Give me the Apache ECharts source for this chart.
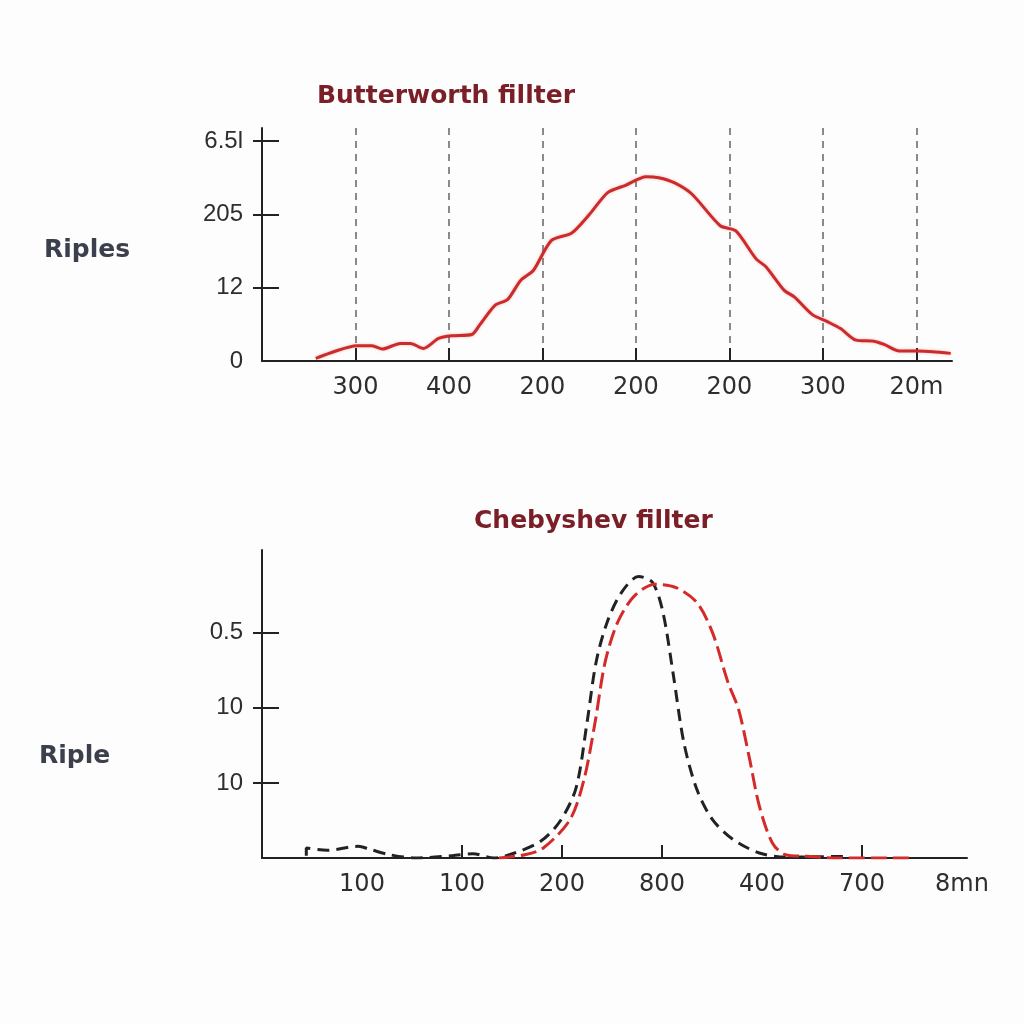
<!DOCTYPE html>
<html>
<head>
<meta charset="utf-8">
<script src="https://cdn.jsdelivr.net/npm/echarts@6/dist/echarts.min.js"></script>
<style>
html,body{margin:0;padding:0;background:#fdfdfd;}
#c{width:1024px;height:1024px;}
</style>
</head>
<body>
<div id="c"></div>
<script>
// ---- Data ----
const topTitle = 'Butterworth fillter';
const bottomTitle = 'Chebyshev fillter';
const topYName = 'Riples';
const bottomYName = 'Riple';

const topXLabels = ['', '300', '400', '200', '200', '200', '300', '20m'];
const topYLabels = ['0', '12', '205', '6.5l'];
const bottomXLabels = ['', '100', '100', '200', '800', '400', '700', '8mn'];
const bottomYLabels = ['', '10', '10', '0.5', ''];

const butterX = [0.575,0.767,1.013,1.177,1.287,1.479,1.588,1.725,1.889,2.026,2.245,2.327,2.492,2.629,2.766,2.902,3.094,3.313,3.505,3.697,3.888,4.107,4.244,4.409,4.600,4.901,5.066,5.285,5.394,5.586,5.696,5.887,6.051,6.188,6.353,6.544,6.654,6.818,7.010,7.174,7.366];
const butterY = [0.036,0.127,0.208,0.208,0.163,0.240,0.240,0.172,0.308,0.344,0.362,0.489,0.760,0.842,1.100,1.235,1.643,1.747,2.005,2.299,2.398,2.516,2.502,2.434,2.276,1.846,1.778,1.394,1.281,0.964,0.873,0.633,0.534,0.443,0.285,0.271,0.226,0.136,0.136,0.127,0.104];

const chebBlackX = [0.443,0.443,0.651,0.964,1.068,1.276,1.536,1.901,2.109,2.318,2.526,2.786,2.980,3.140,3.250,3.340,3.450,3.594,3.766,3.906,4.010,4.115,4.219,4.349,4.505,4.714,4.974,5.234,5.859];
const chebBlackY = [0.030,0.133,0.102,0.156,0.120,0.044,0.000,0.031,0.058,0.000,0.067,0.222,0.489,0.930,1.800,2.600,3.133,3.533,3.747,3.667,3.267,2.422,1.533,0.911,0.511,0.244,0.067,0.013,0.022];

const chebRedX = [2.370,2.630,2.813,3.080,3.220,3.330,3.430,3.555,3.724,3.932,4.141,4.349,4.505,4.661,4.766,4.870,4.974,5.104,5.234,5.443,5.755,6.120,6.484];
const chebRedY = [0.000,0.044,0.133,0.511,1.044,1.800,2.600,3.133,3.489,3.644,3.600,3.400,3.000,2.333,1.978,1.356,0.689,0.200,0.044,0.022,0.000,0.000,0.000];

// ---- Build ----
const zip = (xs, ys) => xs.map((x, i) => [x, ys[i]]);
const NARROW = '"Liberation Sans", Arial, sans-serif';
const WIDE = '"DejaVu Sans", sans-serif';
const xLabelStyle = {color: '#2e2e2e', fontSize: 24, fontFamily: WIDE};
const yLabelStyle = {color: '#2e2e2e', fontSize: 24, fontFamily: NARROW};
const axisLineStyle = {lineStyle: {color: '#222', width: 2}};
const tickLine = {color: '#222', width: 2};

const chart = echarts.init(document.getElementById('c'), null, {renderer: 'canvas'});
chart.setOption({
  backgroundColor: '#fdfdfd',
  animation: false,
  title: [
    {text: topTitle, left: 312, top: 79, textStyle: {color: '#7a1f27', fontSize: 25, fontWeight: 'bold', fontFamily: WIDE}},
    {text: bottomTitle, left: 469, top: 504, textStyle: {color: '#7a1f27', fontSize: 25, fontWeight: 'bold', fontFamily: WIDE}}
  ],
  graphic: [
    {type: 'text', left: 44, top: 238, style: {text: topYName, fill: '#3b404c', font: 'bold 25px ' + WIDE}},
    {type: 'text', left: 39, top: 744, style: {text: bottomYName, fill: '#3b404c', font: 'bold 25px ' + WIDE}}
  ],
  grid: [
    {left: 262, top: 128, right: 72, bottom: 663},
    {left: 262, top: 550, right: 57, bottom: 166}
  ],
  xAxis: [
    {
      type: 'value', gridIndex: 0, min: 0, max: 7.38, interval: 1,
      axisLine: axisLineStyle,
      axisTick: {show: true, inside: true, length: 13, lineStyle: tickLine, customValues: [1,2,3,4,5,6,7]},
      axisLabel: Object.assign({margin: 15, formatter: v => topXLabels[Math.round(v)] || '', customValues: [1,2,3,4,5,6,7]}, xLabelStyle),
      splitLine: {show: true, lineStyle: {type: [7, 6], color: '#8a8a8a', width: 2}}
    },
    {
      type: 'value', gridIndex: 1, min: 0, max: 7.05, interval: 1,
      axisLine: axisLineStyle,
      axisTick: {show: true, inside: true, length: 13, lineStyle: tickLine, customValues: [2,3,4,6]},
      axisLabel: Object.assign({margin: 15, formatter: v => bottomXLabels[Math.round(v)] || '', customValues: [1,2,3,4,5,6,7]}, xLabelStyle),
      splitLine: {show: false}
    }
  ],
  yAxis: [
    {
      type: 'value', gridIndex: 0, min: 0, max: 3.18, interval: 1,
      axisLine: {show: true, lineStyle: {color: '#222', width: 2}},
      axisTick: {show: true, inside: false, length: 9, lineStyle: tickLine, customValues: [1,2,3]},
      axisLabel: Object.assign({margin: 19, formatter: v => topYLabels[Math.round(v)] || ''}, yLabelStyle),
      splitLine: {show: false}
    },
    {
      type: 'value', gridIndex: 0, min: 0, max: 3.18, interval: 1, position: 'left',
      axisLine: {show: false},
      axisTick: {show: true, inside: true, length: 17, lineStyle: tickLine, customValues: [1,2,3]},
      axisLabel: {show: false},
      splitLine: {show: false}
    },
    {
      type: 'value', gridIndex: 1, min: 0, max: 4.1, interval: 1,
      axisLine: {show: true, lineStyle: {color: '#222', width: 2}},
      axisTick: {show: true, inside: false, length: 9, lineStyle: tickLine, customValues: [1,2,3]},
      axisLabel: Object.assign({margin: 19, formatter: v => bottomYLabels[Math.round(v)] || ''}, yLabelStyle),
      splitLine: {show: false}
    },
    {
      type: 'value', gridIndex: 1, min: 0, max: 4.1, interval: 1, position: 'left',
      axisLine: {show: false},
      axisTick: {show: true, inside: true, length: 17, lineStyle: tickLine, customValues: [1,2,3]},
      axisLabel: {show: false},
      splitLine: {show: false}
    }
  ],
  series: [
    {
      type: 'line', xAxisIndex: 0, yAxisIndex: 0, data: zip(butterX, butterY),
      showSymbol: false, smooth: 0.25,
      lineStyle: {color: '#cc2b2b', width: 3, shadowColor: 'rgba(220,60,60,0.35)', shadowBlur: 3}
    },
    {
      type: 'line', xAxisIndex: 1, yAxisIndex: 2, data: zip(chebBlackX, chebBlackY),
      showSymbol: false, smooth: 0.3, z: 2,
      lineStyle: {color: '#222', width: 3, type: [12, 7]}
    },
    {
      type: 'line', xAxisIndex: 1, yAxisIndex: 2, data: zip(chebRedX, chebRedY),
      showSymbol: false, smooth: 0.3, z: 3,
      lineStyle: {color: '#d42a2a', width: 3, type: [16, 6]}
    }
  ]
});
</script>
</body>
</html>
